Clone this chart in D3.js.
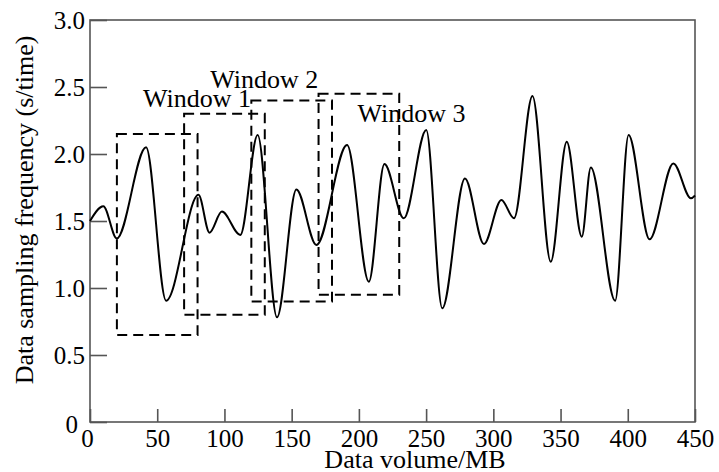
<!DOCTYPE html>
<html>
<head>
<meta charset="utf-8">
<script src="https://cdn.jsdelivr.net/npm/d3@7"></script>
<style>
  body { margin: 0; background: #fff; }
  svg { display: block; }
  text { font-family: "Liberation Serif", "Times New Roman", serif; fill: #000; }
</style>
</head>
<body>
<div id="chart"></div>
<script>
const w = 719;
const h = 472;

// tick values
const xTicks = [0, 50, 100, 150, 200, 250, 300, 350, 400, 450];
const yTicks = [0, 0.5, 1.0, 1.5, 2.0, 2.5, 3.0];

const volume = [0, 9.9, 19.9, 41.7, 56.6, 80.7, 88.9, 98.1, 111.8, 124.7, 139.1, 153.5, 168.4,
                191.2, 207.4, 219.0, 233.4, 250.1, 262.0, 278.9, 293.0, 306.0, 315.4, 329.1,
                342.7, 354.6, 365.8, 372.5, 390.6, 400.6, 416.2, 433.9, 447.0, 450];
const frequency = [1.5, 1.61, 1.37, 2.05, 0.905, 1.695, 1.413, 1.57, 1.396, 2.142, 0.781, 1.736, 1.321,
                   2.067, 1.047, 1.925, 1.52, 2.179, 0.848, 1.818, 1.328, 1.657, 1.52, 2.433,
                   1.196, 2.092, 1.383, 1.90, 0.905, 2.142, 1.363, 1.93, 1.669, 1.69];

// sliding windows (dashed boxes)
const winStart = [20, 70, 120, 170];
const winEnd = [80, 130, 180, 230];
const winLow = [0.65, 0.8, 0.9, 0.95];
const winHigh = [2.15, 2.3, 2.4, 2.45];

// window labels
const labelText = ["Window 1", "Window 2", "Window 3"];
const labelX = [39.5, 89.5, 199];
const labelY = [2.35, 2.49, 2.24];

const padLeft = 90, padRight = 695, padTop = 20, padBottom = 422;

const xScale = d3.scaleLinear().domain([0, 450]).range([padLeft, padRight]);
const yScale = d3.scaleLinear().domain([0, 3]).range([padBottom, padTop]);

const svg = d3.select("#chart")
    .append("svg")
    .attr("width", w)
    .attr("height", h);

// frame
svg.append("rect")
    .attr("x", padLeft)
    .attr("y", padTop)
    .attr("width", padRight - padLeft)
    .attr("height", padBottom - padTop)
    .attr("fill", "none")
    .attr("stroke", "#555")
    .attr("stroke-width", 1.6);

let xAxis = d3.axisBottom(xScale)
    .tickValues(xTicks)
    .tickSizeInner(-13)
    .tickSizeOuter(0)
    .tickPadding(7)
    .tickFormat(d3.format("d"));

let yAxis = d3.axisLeft(yScale)
    .tickValues(yTicks)
    .tickSizeInner(-17)
    .tickSizeOuter(0)
    .tickPadding(5)
    .tickFormat(d => d === 0 ? "0" : d.toFixed(1));

const gx = svg.append("g")
    .attr("transform", "translate(0, " + padBottom + ")")
    .call(xAxis);

const gy = svg.append("g")
    .attr("transform", "translate(" + padLeft + ", 0)")
    .call(yAxis);

[gx, gy].forEach(g => {
    g.select(".domain").remove();
    g.selectAll(".tick line").attr("stroke", "#555").attr("stroke-width", 1.6);
    g.selectAll(".tick text")
        .attr("font-family", "Liberation Serif, serif")
        .attr("font-size", 25)
        .attr("fill", "#000");
});

// the two zeros at the origin sit a little apart
gx.selectAll(".tick text").filter(d => d === 0).attr("dx", -3);
gy.selectAll(".tick text").filter(d => d === 0).attr("dx", -7).attr("dy", "0.4em");

// windows
svg.selectAll("rect.win")
    .data(winStart)
    .enter()
    .append("rect")
    .attr("class", "win")
    .attr("x", (d, i) => xScale(winStart[i]))
    .attr("y", (d, i) => yScale(winHigh[i]))
    .attr("width", (d, i) => xScale(winEnd[i]) - xScale(winStart[i]))
    .attr("height", (d, i) => yScale(winLow[i]) - yScale(winHigh[i]))
    .attr("fill", "none")
    .attr("stroke", "#000")
    .attr("stroke-width", 2)
    .attr("stroke-dasharray", "10,6");

// signal
const line = d3.line()
    .x(d => xScale(d[0]))
    .y(d => yScale(d[1]))
    .curve(d3.curveMonotoneX);

svg.append("path")
    .datum(volume.map((v, i) => [v, frequency[i]]))
    .attr("d", line)
    .attr("fill", "none")
    .attr("stroke", "#000")
    .attr("stroke-width", 2);

svg.selectAll("text.lab")
    .data(labelText)
    .enter()
    .append("text")
    .attr("class", "lab")
    .attr("x", (d, i) => xScale(labelX[i]))
    .attr("y", (d, i) => yScale(labelY[i]))
    .attr("font-size", 26)
    .text(d => d);

// axis titles
svg.append("text")
    .attr("x", 415)
    .attr("y", 468)
    .attr("text-anchor", "middle")
    .attr("font-size", 26)
    .text("Data volume/MB");

svg.append("text")
    .attr("transform", "translate(33, 210) rotate(-90)")
    .attr("text-anchor", "middle")
    .attr("font-size", 26)
    .text("Data sampling frequency (s/time)");
</script>
</body>
</html>
